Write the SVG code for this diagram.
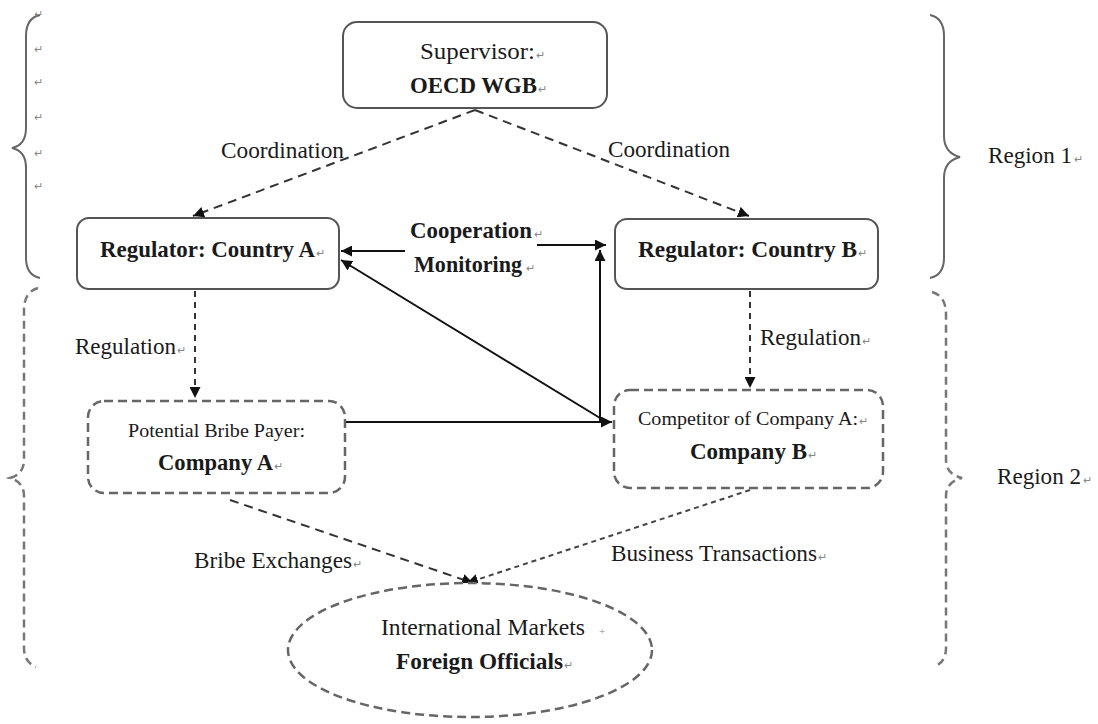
<svg xmlns="http://www.w3.org/2000/svg" width="1098" height="724" viewBox="0 0 1098 724">
  <defs>
    <marker id="ah" viewBox="0 0 10 10" refX="10" refY="5" markerWidth="11" markerHeight="11" markerUnits="userSpaceOnUse" orient="auto">
      <path d="M0,0 L10,5 L0,10 z" fill="#111"/>
    </marker>
    <style>
      text { font-family: "Liberation Serif", "Times New Roman", serif; fill: #1a1a1a; }
      .reg { font-size: 23px; }
      .sm { font-size: 19px; }
      .b { font-size: 23px; font-weight: bold; }
      .pm { font-size: 11px; fill: #888; font-weight: normal; }
      .box { fill: #fff; stroke: #555; stroke-width: 2; }
      .dbox { fill: #fff; stroke: #666; stroke-width: 2.5; stroke-dasharray: 9 5; }
      .brace { fill: none; stroke: #666; stroke-width: 2; }
      .dbrace { fill: none; stroke: #777; stroke-width: 2.5; stroke-dasharray: 8 5; }
      .solid { fill: none; stroke: #111; stroke-width: 2; }
      .dash { fill: none; stroke: #333; stroke-width: 2; stroke-dasharray: 9 6; }
      .dot { fill: none; stroke: #333; stroke-width: 2; stroke-dasharray: 6 5; }
      .fine { fill: none; stroke: #444; stroke-width: 2; stroke-dasharray: 5 4; }
    </style>
  </defs>
  <rect width="1098" height="724" fill="#fff"/>

  <!-- region braces -->
  <g id="braces">
    <path class="brace" d="M40,15 Q26,18 26,36 L26,128 Q26,145 12,148 Q26,151 26,168 L26,258 Q26,275 40,278"/>
    <path class="dbrace" d="M38,288 Q24,292 24,310 L24,460 Q24,474 10,478 Q24,482 24,496 L24,648 Q24,662 36,667"/>
    <path class="brace" d="M930,15 Q944,18 944,36 L944,136 Q944,153 960,157 Q944,161 944,178 L944,258 Q944,275 930,278"/>
    <path class="dbrace" d="M932,292 Q946,296 946,314 L946,460 Q946,474 962,478 Q946,482 946,496 L946,648 Q946,662 934,667"/>
    <text class="pm" x="34" y="18">↵</text>
    <text class="pm" x="34" y="53">↵</text>
    <text class="pm" x="34" y="86">↵</text>
    <text class="pm" x="34" y="121">↵</text>
    <text class="pm" x="34" y="157">↵</text>
    <text class="pm" x="34" y="190">↵</text>
    <text class="reg" x="988" y="163" textLength="84" lengthAdjust="spacingAndGlyphs">Region 1</text>
    <text class="pm" x="1074" y="163">↵</text>
    <text class="reg" x="997" y="484" textLength="84" lengthAdjust="spacingAndGlyphs">Region 2</text>
    <text class="pm" x="1083" y="484">↵</text>
  </g>

  <!-- connectors -->
  <g id="connectors">
    <path class="dash" d="M475,110 L193,216" marker-end="url(#ah)"/>
    <path class="dash" d="M475,110 L749,216" marker-end="url(#ah)"/>
    <path class="solid" d="M405,251 L341,251" marker-end="url(#ah)"/>
    <path class="solid" d="M537,245 L606,245" marker-end="url(#ah)"/>
    <path class="solid" d="M600,422 L600,250" marker-end="url(#ah)"/>
    <path class="solid" d="M600,418 L341,260" marker-end="url(#ah)"/>
    <path class="solid" d="M346,422 L612,422" marker-end="url(#ah)"/>
    <path class="dot" d="M195,291 L195,398" marker-end="url(#ah)"/>
    <path class="dot" d="M750,291 L750,388" marker-end="url(#ah)"/>
    <path class="dash" d="M230,500 L473,583" marker-end="url(#ah)"/>
    <path class="fine" d="M750,490 L467,583" marker-end="url(#ah)"/>
    <text class="reg" x="221" y="158" textLength="123" lengthAdjust="spacingAndGlyphs">Coordination</text>
    <text class="reg" x="608" y="157" textLength="122" lengthAdjust="spacingAndGlyphs">Coordination</text>
    <text class="b" x="410" y="238" textLength="122" lengthAdjust="spacingAndGlyphs">Cooperation</text>
    <text class="pm" x="534" y="238">↵</text>
    <text class="b" x="414" y="272" textLength="108" lengthAdjust="spacingAndGlyphs">Monitoring</text>
    <text class="pm" x="526" y="272">↵</text>
    <text class="reg" x="75" y="354" textLength="101" lengthAdjust="spacingAndGlyphs">Regulation</text>
    <text class="pm" x="177" y="354">↵</text>
    <text class="reg" x="760" y="345" textLength="101" lengthAdjust="spacingAndGlyphs">Regulation</text>
    <text class="pm" x="862" y="345">↵</text>
    <text class="reg" x="194" y="568" textLength="158" lengthAdjust="spacingAndGlyphs">Bribe Exchanges</text>
    <text class="pm" x="353" y="568">↵</text>
    <text class="reg" x="611" y="561" textLength="206" lengthAdjust="spacingAndGlyphs">Business Transactions</text>
    <text class="pm" x="818" y="561">↵</text>
  </g>

  <g id="supervisor">
    <rect class="box" x="343" y="22" width="264" height="86" rx="14"/>
    <text class="reg" x="420" y="59" textLength="115" lengthAdjust="spacingAndGlyphs">Supervisor:</text>
    <text class="pm" x="536" y="59">↵</text>
    <text class="b" x="410" y="93" textLength="127" lengthAdjust="spacingAndGlyphs">OECD WGB</text>
    <text class="pm" x="538" y="93">↵</text>
  </g>

  <g id="regulator-a">
    <rect class="box" x="77" y="218" width="262" height="71" rx="12"/>
    <text class="b" x="100" y="257" textLength="215" lengthAdjust="spacingAndGlyphs">Regulator: Country A</text>
    <text class="pm" x="316" y="257">↵</text>
  </g>

  <g id="regulator-b">
    <rect class="box" x="615" y="219" width="263" height="70" rx="12"/>
    <text class="b" x="638" y="257" textLength="219" lengthAdjust="spacingAndGlyphs">Regulator: Country B</text>
    <text class="pm" x="858" y="257">↵</text>
  </g>

  <g id="company-a">
    <rect class="dbox" x="88" y="401" width="257" height="92" rx="16"/>
    <text class="sm" x="128" y="437" textLength="177" lengthAdjust="spacingAndGlyphs">Potential Bribe Payer:</text>
    <text class="b" x="158" y="470" textLength="115" lengthAdjust="spacingAndGlyphs">Company A</text>
    <text class="pm" x="274" y="470">↵</text>
  </g>

  <g id="company-b">
    <rect class="dbox" x="614" y="390" width="269" height="98" rx="16"/>
    <text class="sm" x="638" y="425" textLength="220" lengthAdjust="spacingAndGlyphs">Competitor of Company A:</text>
    <text class="pm" x="859" y="425">↵</text>
    <text class="b" x="690" y="459" textLength="117" lengthAdjust="spacingAndGlyphs">Company B</text>
    <text class="pm" x="808" y="459">↵</text>
  </g>

  <g id="markets">
    <ellipse class="dbox" cx="470" cy="650" rx="182" ry="67"/>
    <text class="reg" x="381" y="635" textLength="204" lengthAdjust="spacingAndGlyphs">International Markets</text>
    <text class="pm" x="599" y="635">+</text>
    <text class="b" x="396" y="669" textLength="167" lengthAdjust="spacingAndGlyphs">Foreign Officials</text>
    <text class="pm" x="564" y="669">↵</text>
  </g>
</svg>
